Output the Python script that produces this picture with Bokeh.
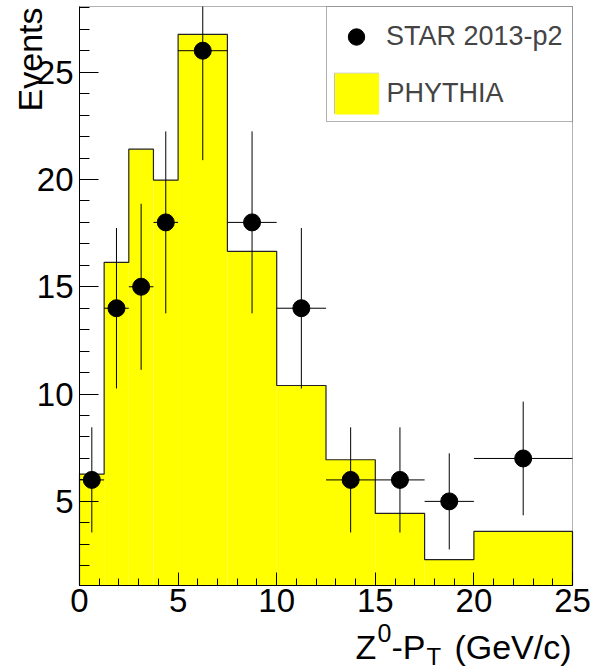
import math
from bokeh.plotting import figure
from bokeh.models import (ColumnDataSource, SingleIntervalTicker, Legend, LegendItem,
                          Label, BoxAnnotation, Range1d)
from bokeh.embed import file_html
from bokeh.resources import INLINE

# ---- data ----
bin_edges = [0, 1.25, 2.5, 3.75, 5, 7.5, 10, 12.5, 15, 17.5, 20, 25]
pythia_counts = [6.27, 16.14, 21.41, 19.97, 26.76, 16.65, 10.40, 6.94, 4.44, 2.29, 3.60]
star_x = [0.625, 1.875, 3.125, 4.375, 6.25, 8.75, 11.25, 13.75, 16.25, 18.75, 22.5]
star_y = [6, 14, 15, 18, 26, 18, 14, 6, 6, 5, 7]
star_err = [2.45, 3.74, 3.87, 4.24, 5.10, 4.24, 3.74, 2.45, 2.45, 2.24, 2.65]

FONT = "Liberation Sans"
X0, X1 = 0, 25          # axis extent
Y0, Y1 = 1.08, 28.06

# ---- layout (pixels) ----
W, H = 592, 671
BL, BR, BT, BB = 79, 572, 6, 585   # data box inside the canvas
kx = (BR - BL) / (X1 - X0)
ky = (BB - BT) / (Y1 - Y0)
xr = Range1d(X0 - BL / kx, X1 + (W - BR) / kx)
yr = Range1d(Y0 - (H - BB) / ky, Y1 + BT / ky)

p = figure(width=W, height=H, x_range=xr, y_range=yr,
           output_backend="svg", toolbar_location=None, min_border=0)
p.title.visible = False
p.background_fill_color = "white"
p.border_fill_color = "white"
p.outline_line_color = None
p.xgrid.visible = False
p.ygrid.visible = False

# ---- histogram (PYTHIA) ----
left = bin_edges[:-1]
right = bin_edges[1:]
hist_src = ColumnDataSource(dict(left=left, right=right, top=pythia_counts,
                                 bottom=[Y0] * len(pythia_counts)))
hist_r = p.quad(left="left", right="right", top="top", bottom="bottom", source=hist_src,
                fill_color="#ffff00", line_color=None)

ox, oy = [bin_edges[0]], [Y0]
for l, r, h in zip(left, right, pythia_counts):
    ox += [l, r]
    oy += [h, h]
ox.append(bin_edges[-1])
oy.append(Y0)
p.line(ox, oy, line_color="#222222", line_width=1.2)

# ---- STAR data points with error bars ----
half_w = [(r - l) / 2 for l, r in zip(left, right)]
src = ColumnDataSource(dict(
    x=star_x, y=star_y,
    xl=[x - h for x, h in zip(star_x, half_w)], xr=[x + h for x, h in zip(star_x, half_w)],
    yl=[max(y - e, Y0) for y, e in zip(star_y, star_err)],
    yh=[min(y + e, Y1) for y, e in zip(star_y, star_err)],
))
p.segment(x0="xl", x1="xr", y0="y", y1="y", source=src, line_color="black", line_width=1)
p.segment(x0="x", x1="x", y0="yl", y1="yh", source=src, line_color="black", line_width=1)
star_r = p.scatter(x="x", y="y", source=src, size=17, marker="circle",
                   fill_color="black", line_color="black")

# ---- frame of the data box ----
p.add_layout(BoxAnnotation(left=X0, right=X1, bottom=Y0, top=Y1, fill_alpha=0,
                           fill_color=None, line_color="black", line_width=1))

# ---- axes ----
for ax in (p.xaxis[0], p.yaxis[0]):
    ax.axis_line_color = "black"
    ax.axis_line_width = 1
    ax.major_tick_line_color = "black"
    ax.minor_tick_line_color = "black"
    ax.major_tick_out = 0
    ax.minor_tick_out = 0
    ax.major_label_text_font = FONT
    ax.major_label_text_font_size = "33px"
    ax.major_label_text_color = "black"

p.xaxis.fixed_location = Y0
p.xaxis.bounds = (X0, X1)
p.xaxis.ticker = SingleIntervalTicker(interval=5, num_minor_ticks=5)
p.xaxis.major_tick_in = 13
p.xaxis.minor_tick_in = 7
p.xaxis.major_label_standoff = 3

p.yaxis.fixed_location = X0
p.yaxis.bounds = (Y0, Y1)
p.yaxis.ticker = SingleIntervalTicker(interval=5, num_minor_ticks=5)
p.yaxis.major_tick_in = 19
p.yaxis.minor_tick_in = 10
p.yaxis.major_label_standoff = 6

# ---- axis titles (ROOT style) ----
def lab(text, cx, cy, size, align="left", angle=0):
    fs = float(size[:-2])
    shift = 0.32 * fs  # correction so that cy is the visible baseline
    if angle == 0:
        cy = cy - shift
    else:
        cx = cx - shift
    p.add_layout(Label(x=cx, y=H - cy, x_units="screen", y_units="screen",
                       text=text, text_font=FONT, text_font_size=size,
                       text_align=align, text_baseline="alphabetic", angle=angle,
                       text_color="black"))

lab("Z", 355, 657, "34px")
lab("0", 377, 640, "25px")
lab("-P", 391, 657, "34px")
lab("T", 426, 664, "24px")
lab("(GeV/c)", 571, 657, "34px", align="right")
lab("Events", 40, 7, "34px", align="right", angle=math.pi / 2)

# ---- legend ----
p.add_layout(BoxAnnotation(left=326, right=BR, top=H - BT, bottom=H - 121,
                           left_units="screen", right_units="screen",
                           top_units="screen", bottom_units="screen",
                           fill_color="white", fill_alpha=1.0,
                           line_color="black", line_width=1))

leg1 = Legend(items=[LegendItem(label="STAR 2013-p2", renderers=[star_r])],
              location=(334, H - 57), margin=0, padding=0,
              glyph_width=44, glyph_height=41, label_height=41, label_standoff=8,
              label_text_font=FONT, label_text_font_size="27px",
              border_line_color=None, background_fill_alpha=0)
leg2 = Legend(items=[LegendItem(label="PHYTHIA", renderers=[hist_r])],
              location=(328.5, H - 118.5), margin=0, padding=0,
              glyph_width=55, glyph_height=51, label_height=51, label_standoff=3,
              label_text_font=FONT, label_text_font_size="27px",
              border_line_color=None, background_fill_alpha=0)
p.add_layout(leg1)
p.add_layout(leg2)
# outline of the yellow legend swatch
p.add_layout(BoxAnnotation(left=334, right=378, top=H - 72.7, bottom=H - 112.8,
                           left_units="screen", right_units="screen",
                           top_units="screen", bottom_units="screen",
                           fill_color=None, fill_alpha=0,
                           line_color="#333333", line_width=1))

open("out.html", "w").write(file_html(p, INLINE))
